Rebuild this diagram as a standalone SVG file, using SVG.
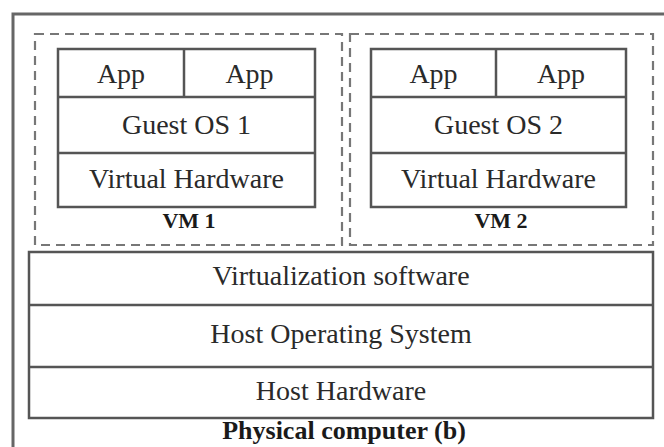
<svg xmlns="http://www.w3.org/2000/svg" width="664" height="447" viewBox="0 0 664 447">
<style>
.box{fill:#fff;stroke:#555;stroke-width:2.5}
.ln{stroke:#555;stroke-width:2.5;fill:none}
.dash{fill:none;stroke:#777;stroke-width:2.2;stroke-dasharray:9 6}
.t{font-family:"Liberation Serif","Times New Roman",serif;font-size:28px;fill:#2a2a2a;text-anchor:middle}
.b{font-family:"Liberation Serif","Times New Roman",serif;font-weight:bold;fill:#1a1a1a;text-anchor:middle}
</style>
<rect width="664" height="447" fill="#fff"/>
<g id="frame">
<path d="M13 460 V14 H680" fill="none" stroke="#666" stroke-width="3"/>
</g>
<g id="vm1">
<rect class="dash" x="35" y="34" width="307" height="211"/>
<rect class="box" x="58" y="49" width="257" height="158"/>
<line class="ln" x1="58" y1="97" x2="315" y2="97"/>
<line class="ln" x1="58" y1="153" x2="315" y2="153"/>
<line class="ln" x1="184" y1="49" x2="184" y2="97"/>
<text class="t" x="121" y="83">App</text>
<text class="t" x="249.5" y="83">App</text>
<text class="t" x="186.5" y="134">Guest OS 1</text>
<text class="t" x="186.5" y="188">Virtual Hardware</text>
<text class="b" x="189" y="228" font-size="22">VM 1</text>
</g>
<g id="vm2">
<rect class="dash" x="350" y="34" width="303" height="211"/>
<rect class="box" x="371" y="49" width="255" height="158"/>
<line class="ln" x1="371" y1="97" x2="626" y2="97"/>
<line class="ln" x1="371" y1="153" x2="626" y2="153"/>
<line class="ln" x1="496" y1="49" x2="496" y2="97"/>
<text class="t" x="433.5" y="83">App</text>
<text class="t" x="561" y="83">App</text>
<text class="t" x="498.5" y="134">Guest OS 2</text>
<text class="t" x="498.5" y="188">Virtual Hardware</text>
<text class="b" x="501" y="228" font-size="22">VM 2</text>
</g>
<g id="host">
<rect class="box" x="29" y="252" width="624" height="166"/>
<line class="ln" x1="29" y1="305" x2="653" y2="305"/>
<line class="ln" x1="29" y1="367" x2="653" y2="367"/>
<text class="t" x="341" y="285">Virtualization software</text>
<text class="t" x="341" y="343">Host Operating System</text>
<text class="t" x="341" y="400">Host Hardware</text>
</g>
<g id="caption">
<text class="b" x="344" y="439" font-size="26">Physical computer (b)</text>
</g>
<g id="connectors"/>
</svg>
